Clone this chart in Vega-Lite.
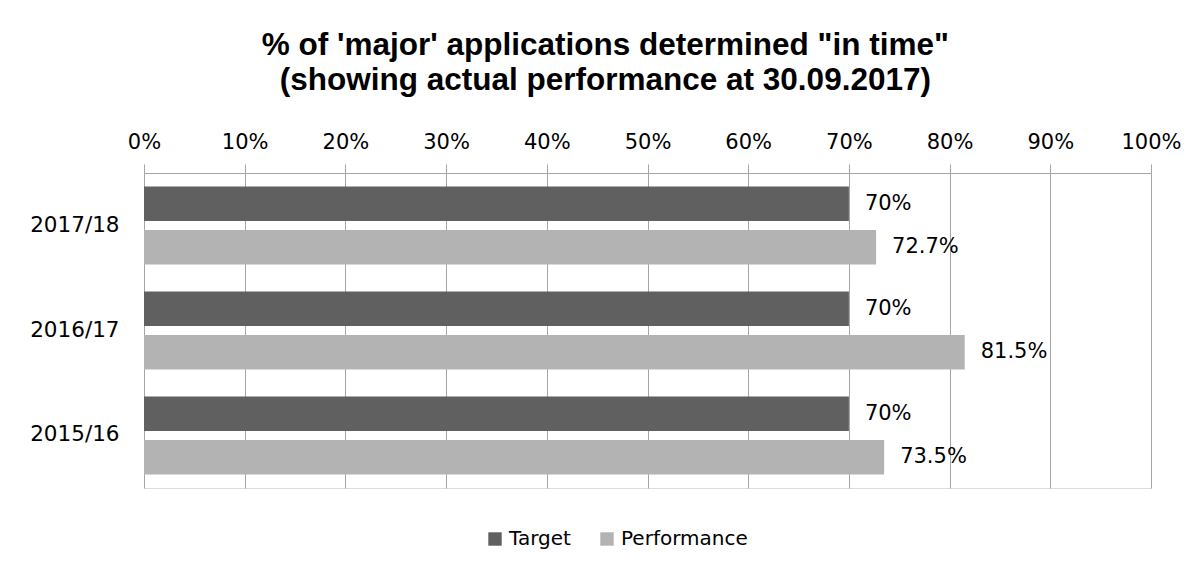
{
  "$schema": "https://vega.github.io/schema/vega-lite/v6.json",
  "autosize": "none",
  "padding": {"left": 144, "top": 173, "right": 49, "bottom": 83},
  "width": 1007,
  "height": 315,
  "background": "white",
  "title": {
    "text": ["% of 'major' applications determined \"in time\"", "(showing actual performance at 30.09.2017)"],
    "font": "Liberation Sans",
    "fontSize": 31.5,
    "fontWeight": "bold",
    "color": "#000000",
    "anchor": "middle",
    "frame": "bounds",
    "lineHeight": 35,
    "offset": 35
  },
  "data": {
    "values": [
      {"year": "2017/18", "series": "Target", "value": 0.70},
      {"year": "2017/18", "series": "Performance", "value": 0.727},
      {"year": "2016/17", "series": "Target", "value": 0.70},
      {"year": "2016/17", "series": "Performance", "value": 0.815},
      {"year": "2015/16", "series": "Target", "value": 0.70},
      {"year": "2015/16", "series": "Performance", "value": 0.735}
    ]
  },
  "encoding": {
    "y": {
      "field": "year",
      "type": "nominal",
      "sort": ["2017/18", "2016/17", "2015/16"],
      "scale": {"paddingInner": 0.257, "paddingOuter": 0.1286},
      "axis": {
        "title": null,
        "ticks": false,
        "domain": false,
        "labelFont": "DejaVu Sans",
        "labelFontSize": 21.5,
        "labelColor": "#000000",
        "labelPadding": 25
      }
    },
    "yOffset": {
      "field": "series",
      "type": "nominal",
      "sort": ["Target", "Performance"],
      "scale": {"paddingInner": 0.207, "paddingOuter": 0}
    },
    "x": {
      "field": "value",
      "type": "quantitative",
      "scale": {"domain": [0, 1], "nice": false},
      "axis": {
        "orient": "top",
        "title": null,
        "format": ".0%",
        "values": [0, 0.1, 0.2, 0.3, 0.4, 0.5, 0.6, 0.7, 0.8, 0.9, 1],
        "grid": true,
        "gridColor": "#a6a6a6",
        "gridOpacity": 1,
        "domainColor": "#a6a6a6",
        "tickColor": "#a6a6a6",
        "tickSize": 9,
        "labelFont": "DejaVu Sans",
        "labelFontSize": 21,
        "labelColor": "#000000",
        "labelPadding": 12,
        "labelFlush": false
      }
    }
  },
  "layer": [
    {
      "mark": {"type": "bar"},
      "encoding": {
        "color": {
          "field": "series",
          "type": "nominal",
          "sort": ["Target", "Performance"],
          "scale": {"domain": ["Target", "Performance"], "range": ["#606060", "#b3b3b3"]},
          "legend": {
            "title": null,
            "orient": "none",
            "legendX": 341,
            "legendY": 356,
            "direction": "horizontal",
            "symbolType": "square",
            "symbolSize": 180,
            "symbolStrokeWidth": 0,
            "symbolOpacity": 1,
            "labelFont": "DejaVu Sans",
            "labelFontSize": 20,
            "labelColor": "#000000",
            "labelOffset": 4,
            "columnPadding": 26
          }
        }
      }
    },
    {
      "mark": {"type": "text", "align": "left", "baseline": "middle", "dx": 16, "font": "DejaVu Sans", "fontSize": 21, "color": "#000000"},
      "encoding": {
        "text": {"field": "value", "type": "quantitative", "format": ".1~%"}
      }
    }
  ]
}
